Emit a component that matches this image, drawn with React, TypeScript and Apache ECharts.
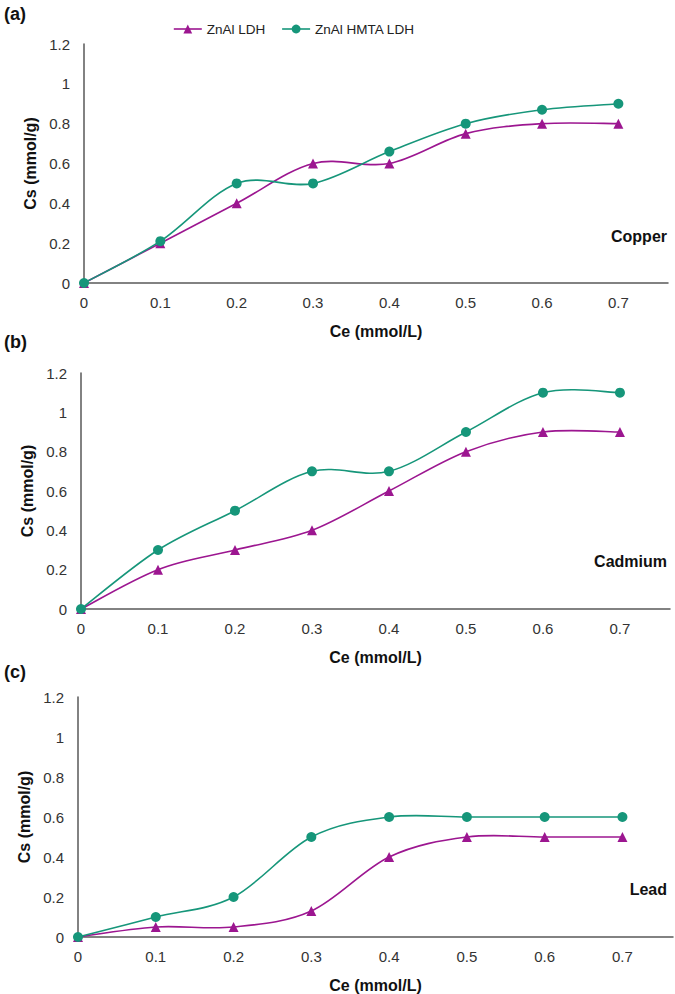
import React, { useEffect, useRef } from "react";
import * as echarts from "echarts";

const ceValues = [0, 0.1, 0.2, 0.3, 0.4, 0.5, 0.6, 0.7];
const seriesNames = ["ZnAl LDH", "ZnAl HMTA LDH"];
const panelLabels = ["(a)", "(b)", "(c)"];
const metalNames = ["Copper", "Cadmium", "Lead"];

const copperLDH = [0, 0.2, 0.4, 0.6, 0.6, 0.75, 0.8, 0.8];
const copperHMTA = [0, 0.21, 0.5, 0.5, 0.66, 0.8, 0.87, 0.9];
const cadmiumLDH = [0, 0.2, 0.3, 0.4, 0.6, 0.8, 0.9, 0.9];
const cadmiumHMTA = [0, 0.3, 0.5, 0.7, 0.7, 0.9, 1.1, 1.1];
const leadLDH = [0, 0.05, 0.05, 0.13, 0.4, 0.5, 0.5, 0.5];
const leadHMTA = [0, 0.1, 0.2, 0.5, 0.6, 0.6, 0.6, 0.6];

const ldhSets = [copperLDH, cadmiumLDH, leadLDH];
const hmtaSets = [copperHMTA, cadmiumHMTA, leadHMTA];

const PURPLE = "#9C1690";
const TEAL = "#16967A";
const FONT = "'Liberation Sans', Arial, sans-serif";

const grids = [
  { left: 84, top: 44, width: 584, height: 239 },
  { left: 81, top: 373, width: 589, height: 236 },
  { left: 78, top: 697, width: 595, height: 240 },
];
const panelLabelY = [15, 343, 673];
const metalY = [237, 562, 890];

export default function App() {
  const ref = useRef<HTMLDivElement>(null);
  useEffect(() => {
    if (!ref.current) return;
    const chart = echarts.init(ref.current, null, { renderer: "svg" });
    const toPts = (arr: number[]) => ceValues.map((x, i) => [x, arr[i]]);

    const curveSeries = (arr: number[], idx: number, color: string) => ({
      type: "custom",
      xAxisIndex: idx,
      yAxisIndex: idx,
      coordinateSystem: "cartesian2d",
      data: toPts(arr),
      encode: { x: 0, y: 1 },
      clip: false,
      silent: true,
      z: 1,
      renderItem: (params: any, api: any) => {
        const i = params.dataIndex;
        const n = ceValues.length;
        if (i >= n - 1) return null;
        const P = (k: number) => {
          const kk = Math.max(0, Math.min(n - 1, k));
          return api.coord([ceValues[kk], arr[kk]]);
        };
        const p0 = P(i - 1), p1 = P(i), p2 = P(i + 1), p3 = P(i + 2);
        const t = 1 / 6;
        return {
          type: "bezierCurve",
          shape: {
            x1: p1[0], y1: p1[1],
            x2: p2[0], y2: p2[1],
            cpx1: p1[0] + (p2[0] - p0[0]) * t,
            cpy1: p1[1] + (p2[1] - p0[1]) * t,
            cpx2: p2[0] - (p3[0] - p1[0]) * t,
            cpy2: p2[1] - (p3[1] - p1[1]) * t,
          },
          style: { stroke: color, lineWidth: 1.6, fill: null },
        };
      },
    });

    const xAxes = grids.map((_, i) => ({
      type: "value",
      gridIndex: i,
      min: 0,
      max: 0.765,
      interval: 0.1,
      name: "Ce (mmol/L)",
      nameLocation: "middle",
      nameGap: 40,
      nameTextStyle: { fontFamily: FONT, fontWeight: "bold", fontSize: 16, color: "#111" },
      axisLine: { show: true, lineStyle: { color: "#595959", width: 1.5 } },
      axisTick: { show: false },
      splitLine: { show: false },
      axisLabel: {
        showMaxLabel: false,
        fontFamily: FONT,
        fontSize: 15,
        color: "#333",
        margin: 12,
        formatter: (v: number) => String(Math.round(v * 10) / 10),
      },
    }));
    const yAxes = grids.map((_, i) => ({
      type: "value",
      gridIndex: i,
      min: 0,
      max: 1.2,
      interval: 0.2,
      name: "Cs (mmol/g)",
      nameLocation: "middle",
      nameGap: 44,
      nameTextStyle: { fontFamily: FONT, fontWeight: "bold", fontSize: 16, color: "#111" },
      axisLine: { show: true, lineStyle: { color: "#595959", width: 1.5 } },
      axisTick: { show: false },
      splitLine: { show: false },
      axisLabel: {
        fontFamily: FONT,
        fontSize: 15,
        color: "#333",
        margin: 14,
        formatter: (v: number) => String(Math.round(v * 10) / 10),
      },
    }));
    const series: any[] = [];
    grids.forEach((_, i) => {
      series.push(curveSeries(ldhSets[i], i, PURPLE));
      series.push(curveSeries(hmtaSets[i], i, TEAL));
      series.push({
        name: seriesNames[0],
        type: "line",
        xAxisIndex: i,
        yAxisIndex: i,
        data: toPts(ldhSets[i]),
        symbol: "triangle",
        symbolSize: 10,
        clip: false,
        z: 3,
        lineStyle: { color: PURPLE, width: 1.6, opacity: 0 },
        itemStyle: { color: PURPLE },
      });
      series.push({
        name: seriesNames[1],
        type: "line",
        xAxisIndex: i,
        yAxisIndex: i,
        data: toPts(hmtaSets[i]),
        symbol: "circle",
        symbolSize: 10,
        clip: false,
        z: 3,
        lineStyle: { color: TEAL, width: 1.6, opacity: 0 },
        itemStyle: { color: TEAL },
      });
    });
    const graphics: any[] = [];
    panelLabels.forEach((t, i) => {
      graphics.push({
        type: "text",
        left: 4,
        top: panelLabelY[i] - 10,
        style: { text: t, font: `bold 18px ${FONT}`, fill: "#111" },
      });
      graphics.push({
        type: "text",
        right: 8,
        top: metalY[i] - 9,
        style: { text: metalNames[i], font: `bold 16px ${FONT}`, fill: "#111" },
      });
    });
    chart.setOption({
      animation: false,
      backgroundColor: "#fff",
      grid: grids.map((g) => ({ ...g, containLabel: false })),
      xAxis: xAxes,
      yAxis: yAxes,
      legend: {
        data: [
          { name: seriesNames[0], lineStyle: { color: PURPLE, width: 1.6, opacity: 1 } },
          { name: seriesNames[1], lineStyle: { color: TEAL, width: 1.6, opacity: 1 } },
        ],
        left: 168,
        top: 17,
        itemWidth: 28,
        itemHeight: 11,
        itemGap: 16,
        textStyle: { fontFamily: FONT, fontSize: 13.5, color: "#222" },
      },
      series,
      graphic: graphics,
    });
    return () => chart.dispose();
  }, []);
  return (
    <div
      ref={ref}
      style={{ position: "fixed", left: 0, top: 0, width: 675, height: 994, background: "#fff" }}
    />
  );
}
